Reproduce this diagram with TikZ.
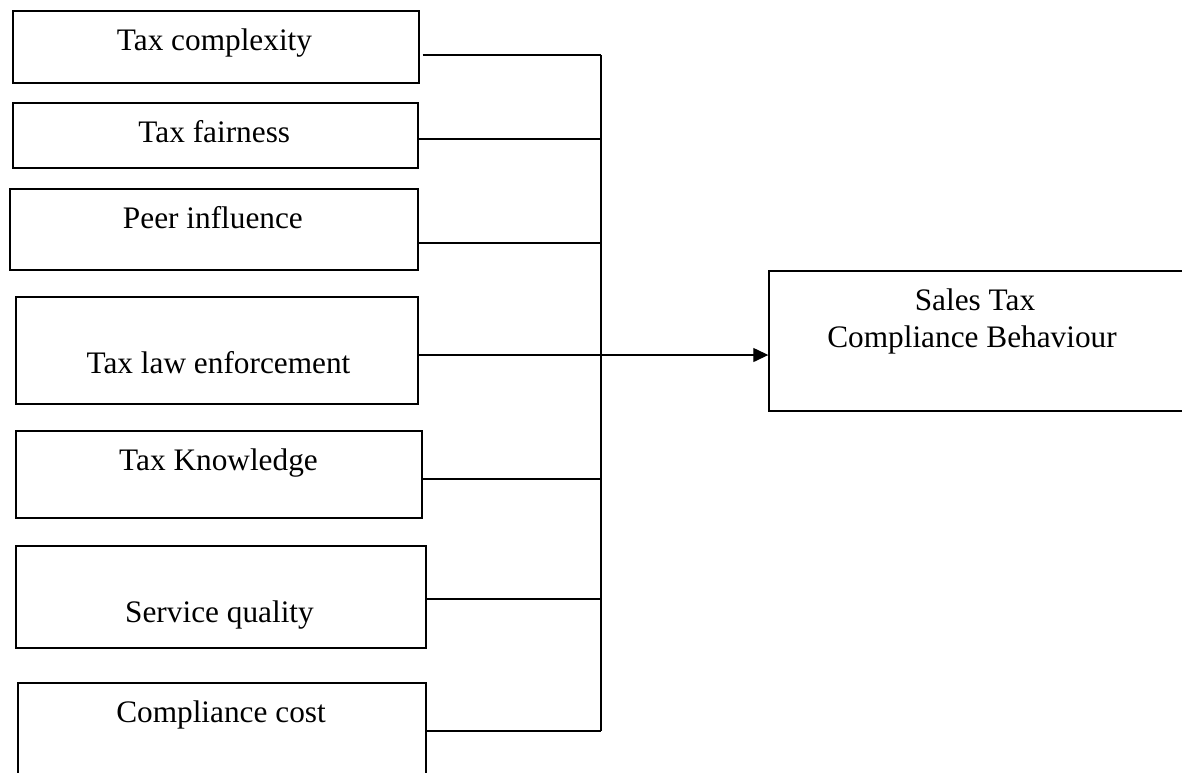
\documentclass[tikz,border=0pt]{standalone}
\usepackage{fontspec}
\setmainfont{Liberation Serif}
\usetikzlibrary{arrows.meta}
\begin{document}
\begin{tikzpicture}[x=1pt,y=-1pt,
  box/.style={draw=black, line width=2pt, rectangle, anchor=north west, inner sep=0pt},
  lbl/.style={anchor=base, inner sep=0pt, font=\fontsize{31.3}{37}\selectfont},
  conn/.style={draw=black, line width=1.3pt},
  arr/.style={conn, -{Triangle[length=15pt,width=14pt]}}]
\useasboundingbox (0,0) rectangle (1182,772);
\begin{scope}
\clip (0,0) rectangle (1182,772);
% left boxes
\node[box, minimum width=406pt, minimum height=72pt] (b1) at (11.5,9.7) {};
\node[box, minimum width=405.5pt, minimum height=65pt] (b2) at (11.5,101.5) {};
\node[box, minimum width=407.5pt, minimum height=81.3pt] (b3) at (9.2,187.5) {};
\node[box, minimum width=402pt, minimum height=107.8pt] (b4) at (14.8,295.5) {};
\node[box, minimum width=406.2pt, minimum height=86.5pt] (b5) at (14.8,430) {};
\node[box, minimum width=410.2pt, minimum height=101.7pt] (b6) at (14.8,545) {};
\node[box, minimum width=407.8pt, minimum height=120pt] (b7) at (17.2,682) {};
% right box
\node[box, minimum width=430pt, minimum height=140pt] (out) at (768.3,270) {};
\end{scope}
% labels
\node[lbl] (t1) at (214.5,50) {Tax complexity};
\node[lbl] (t2) at (214.3,142) {Tax fairness};
\node[lbl] (t3) at (212.9,228) {Peer influence};
\node[lbl] (t4) at (218.5,373) {Tax law enforcement};
\node[lbl] (t5) at (218.5,470) {Tax Knowledge};
\node[lbl] (t6) at (219.5,622) {Service quality};
\node[lbl] (t7) at (221,722) {Compliance cost};
\node[lbl] (s1) at (975,310) {Sales Tax};
\node[lbl] (s2) at (972,347) {Compliance Behaviour};
% junctions
\coordinate (j1) at (601,55);
\coordinate (j2) at (601,139);
\coordinate (j3) at (601,243);
\coordinate (j4) at (601,355);
\coordinate (j5) at (601,479);
\coordinate (j6) at (601,599);
\coordinate (j7) at (601,731);
\draw[conn] ([xshift=3pt]b1.east |- j1) -- (j1);
\draw[conn] (b2.east |- j2) -- (j2);
\draw[conn] (b3.east |- j3) -- (j3);
\draw[conn] (b5.east |- j5) -- (j5);
\draw[conn] (b6.east |- j6) -- (j6);
\draw[conn] (b7.east |- j7) -- (j7);
\draw[conn, line width=1.5pt] (j1) -- (j7);
\draw[arr] (b4.east |- j4) -- (out.west |- j4);
\end{tikzpicture}
\end{document}
